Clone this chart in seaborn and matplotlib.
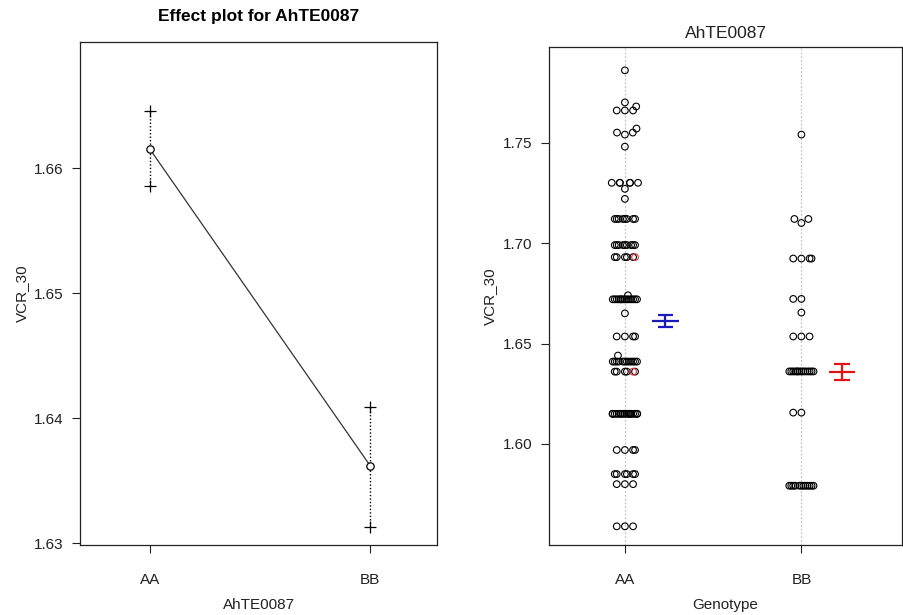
import numpy as np
import pandas as pd
import matplotlib
matplotlib.use("Agg")
import matplotlib.pyplot as plt
import seaborn as sns
import seaborn.categorical as sc

# ------------------------------------------------------------------ data
genotypes = ["AA", "BB"]

# effect plot (left): estimated mean and interval ends
effect_mean = [1.6615, 1.6362]
effect_upper = [1.6646, 1.6409]
effect_lower = [1.6586, 1.6313]

# raw phenotype values (right), value / count / imputed flag
aa_values = [1.786, 1.770, 1.768, 1.766, 1.757, 1.755, 1.754, 1.748, 1.730, 1.727,
             1.722, 1.712, 1.699, 1.693, 1.693, 1.674, 1.672, 1.665, 1.6535, 1.644,
             1.641, 1.636, 1.636, 1.615, 1.597, 1.585, 1.580, 1.559]
aa_counts = [1, 1, 1, 3, 1, 2, 1, 1, 6, 1,
             1, 8, 9, 5, 1, 1, 14, 1, 4, 1,
             12, 5, 1, 18, 4, 6, 3, 3]
aa_red = [0, 0, 0, 0, 0, 0, 0, 0, 0, 0,
          0, 0, 0, 0, 1, 0, 0, 0, 0, 0,
          0, 0, 1, 0, 0, 0, 0, 0]

bb_values = [1.754, 1.712, 1.710, 1.6923, 1.6722, 1.6654, 1.6535, 1.6361, 1.6156, 1.5792]
bb_counts = [1, 2, 1, 4, 2, 1, 3, 14, 2, 12]
bb_red = [0, 0, 0, 0, 0, 0, 0, 0, 0, 0]

# mean +/- SE bars (right)
se_mean = [1.6611, 1.6359]
se_upper = [1.6641, 1.6399]
se_lower = [1.6583, 1.6320]
se_colors = ["#1a1ab8", "#e01414"]

# ------------------------------------------------------------------ style
sns.set_theme(style="white")
plt.rcParams["font.family"] = ["Liberation Sans", "DejaVu Sans"]
TXT = "#222222"
FS = 11


class WrapBeeswarm(sc.Beeswarm):
    """seaborn's own swarm layout, with a narrow band that wraps (like R's
    beeswarm corral='wrap') instead of piling points at the edges."""
    def __init__(self, orient="x", width=0.8, warn_thresh=0.05):
        super().__init__(orient=orient, width=0.15, warn_thresh=1.0)

    def add_gutters(self, points, center, *args, **kwargs):
        half = self.width / 2
        rel = points - center
        points[:] = ((rel + half) % (2 * half)) - half + center
        return points


sc.Beeswarm = WrapBeeswarm

W, H = 904, 615
fig = plt.figure(figsize=(W / 100, H / 100), dpi=100)


def px_axes(x0, y0, x1, y1):
    return fig.add_axes([x0 / W, 1 - y1 / H, (x1 - x0) / W, (y1 - y0) / H])


axL = px_axes(80, 42, 437, 545)
axR = px_axes(549, 47, 902, 545)

for ax in (axL, axR):
    for s in ax.spines.values():
        s.set_color("#222222")
        s.set_linewidth(0.9)
        s.set_visible(True)
    ax.tick_params(axis="both", direction="out", length=6, width=0.8,
                   color="#222222", labelsize=FS, labelcolor=TXT,
                   left=True, bottom=True)
    ax.tick_params(axis="x", pad=14)
    ax.tick_params(axis="y", pad=6)
    ax.grid(False)

# ------------------------------------------------------------------ left panel
pos = np.arange(len(genotypes))
axL.vlines(pos, effect_lower, effect_upper, colors="black", linestyles=(0, (1, 1.5)),
           linewidth=1.0, zorder=1)
sns.lineplot(x=pos, y=effect_mean, color="#333333", linewidth=0.9, ax=axL, zorder=2)
sns.scatterplot(x=np.r_[pos, pos], y=np.r_[effect_upper, effect_lower], marker="+",
                s=75, color="black", linewidth=0.9, ax=axL, zorder=3)
sns.scatterplot(x=pos, y=effect_mean, marker="o", s=28, facecolor="white",
                edgecolor="black", linewidth=0.9, ax=axL, zorder=4)
axL.set_xlim(-0.318, 1.3045)
axL.set_ylim(1.62984, 1.67008)
axL.set_xticks(pos)
axL.set_xticklabels(genotypes)
axL.set_yticks([1.63, 1.64, 1.65, 1.66])
axL.set_yticklabels(["1.63", "1.64", "1.65", "1.66"])
axL.set_xlabel("AhTE0087", fontsize=FS, color=TXT, va="center")
axL.set_ylabel("VCR_30", fontsize=FS, color=TXT, va="center")
axL.xaxis.set_label_coords(0.5, (545 - 605) / 503)
axL.yaxis.set_label_coords((22 - 80) / 357, 0.5)

# ------------------------------------------------------------------ right panel
rows = []
for g, vals, cnts, reds in (("AA", aa_values, aa_counts, aa_red),
                            ("BB", bb_values, bb_counts, bb_red)):
    for v, c, r in zip(vals, cnts, reds):
        for _ in range(c):
            rows.append((g, v, "imputed" if r else "observed"))
df = pd.DataFrame(rows, columns=["Genotype", "VCR_30", "kind"])

for i, _ in enumerate(genotypes):
    axR.axvline(i, color="#c4c4c4", linestyle=(0, (1.5, 1.5)), linewidth=0.9, zorder=0)

sns.swarmplot(data=df, x="Genotype", y="VCR_30", hue="kind", order=genotypes,
              hue_order=["observed", "imputed"],
              palette={"observed": "black", "imputed": "#e03030"},
              size=4.8, linewidth=0.8, legend=False, ax=axR, zorder=3)
for coll in axR.collections:
    fc = coll.get_facecolors()
    if len(fc):
        coll.set_edgecolors(fc)
        coll.set_facecolors("none")

off = 0.23
for i, (m, lo, hi, col) in enumerate(zip(se_mean, se_lower, se_upper, se_colors)):
    x = i + off
    axR.vlines(x, lo, hi, colors=col, linewidth=1.6, zorder=4)
    axR.hlines([lo, hi], x - 0.045, x + 0.045, colors=col, linewidth=1.6, zorder=4)
    axR.hlines(m, x - 0.075, x + 0.075, colors=col, linewidth=1.6, zorder=4)

axR.set_xlim(-0.43, 1.57)
axR.set_ylim(1.5497, 1.7976)
axR.set_xticks(pos)
axR.set_xticklabels(genotypes)
axR.set_yticks([1.60, 1.65, 1.70, 1.75])
axR.set_yticklabels(["1.60", "1.65", "1.70", "1.75"])
axR.set_xlabel("Genotype", fontsize=FS, color=TXT, va="center")
axR.set_ylabel("VCR_30", fontsize=FS, color=TXT, va="center")
axR.xaxis.set_label_coords(0.5, (545 - 605) / 498)
axR.yaxis.set_label_coords((490 - 549) / 353, 0.5)

# ------------------------------------------------------------------ titles
fig.text(258.5 / W, 1 - 16 / H, "Effect plot for AhTE0087", ha="center", va="center",
         fontsize=12.5, fontweight="bold", color="black")
fig.text(725.5 / W, 1 - 33 / H, "AhTE0087", ha="center", va="center",
         fontsize=12.5, color=TXT)

fig.savefig("out.png", dpi=100, facecolor="white")
